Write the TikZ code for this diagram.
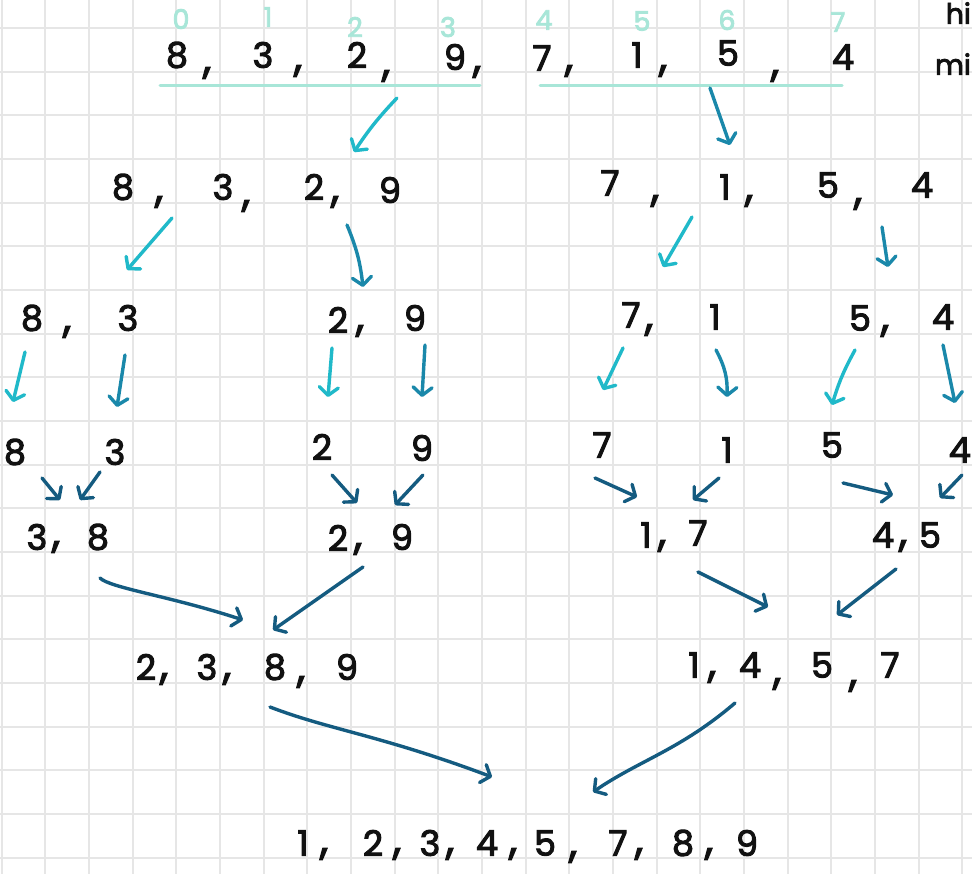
\documentclass[tikz,border=0pt]{standalone}
\usepackage{fontspec}
\setmainfont{Poppins}[FakeBold=3]
\usetikzlibrary{arrows.meta}
\definecolor{gridgray}{HTML}{E6E6E6}
\definecolor{idxteal}{HTML}{A8E6D8}
\definecolor{cyanarr}{HTML}{20B9C9}
\definecolor{tealarr}{HTML}{1A88AA}
\definecolor{darkarr}{HTML}{145B80}
\definecolor{ink}{HTML}{111111}
\tikzset{
  gridline/.style={draw=gridgray, line width=2pt},
  num/.style={inner sep=0pt, text=ink, font=\fontsize{35}{35}\selectfont},
  commamark/.style={inner sep=0pt, text=ink, font=\fontsize{42}{42}\selectfont},
  idx/.style={inner sep=0pt, text=idxteal, font=\fontsize{27}{27}\selectfont},
  note/.style={inner sep=0pt, text=ink, anchor=east, font=\fontsize{28}{28}\selectfont},
  splitline/.style={draw=idxteal, line width=3pt, line cap=round},
  arr/.style={line width=3.4pt, line cap=round, -{Straight Barb[length=8pt,width=19pt,round]}},
  ca/.style={arr, draw=cyanarr},
  ta/.style={arr, draw=tealarr},
  da/.style={arr, draw=darkarr}
}
\begin{document}
\begin{tikzpicture}[x=1pt,y=-1pt]
\useasboundingbox (0,0) rectangle (972,874);
\clip (0,0) rectangle (972,874);
\fill[white] (0,0) rectangle (972,874);
% grid
\foreach \i in {0,...,22} \draw[gridline] ({1.5+43.67*\i},0) -- ({1.5+43.67*\i},874);
\foreach \j in {0,...,19} \draw[gridline] (0,{28+43.67*\j}) -- (972,{28+43.67*\j});
% notes at right edge
\node[note] (hi) at (971,13) {hi};
\node[note] (mi) at (971,64) {mi};
% indices
\node[idx] (i0) at (181,19) {0};
\node[idx] (i1) at (268,17) {1};
\node[idx] (i2) at (355,27) {2};
\node[idx] (i3) at (448,27) {3};
\node[idx] (i4) at (544,20) {4};
\node[idx] (i5) at (642,21) {5};
\node[idx] (i6) at (727,20) {6};
\node[idx] (i7) at (838,22) {7};
% row 0
\node[num] (a0) at (177,55) {8};
\node[commamark] (ac0) at (207,73) {,};
\node[num] (a1) at (263,55) {3};
\node[commamark] (ac1) at (298,71) {,};
\node[num] (a2) at (357,55) {2};
\node[commamark] (ac2) at (386,76) {,};
\node[num] (a3) at (455,57) {9};
\node[commamark] (ac3) at (477,72) {,};
\node[num] (a4) at (542,58) {7};
\node[commamark] (ac4) at (569,71) {,};
\node[num] (a5) at (637,55) {1};
\node[commamark] (ac5) at (663,71) {,};
\node[num] (a6) at (728,53) {5};
\node[commamark] (ac6) at (775,76) {,};
\node[num] (a7) at (843,57) {4};
\draw[splitline] (160,86) coordinate (lL1) -- (480,86) coordinate (lL2);
\draw[splitline] (540,86) coordinate (lR1) -- (842,86) coordinate (lR2);
% row 1
\node[num] (b0) at (123,187) {8};
\node[commamark] (bc0) at (159,202) {,};
\node[num] (b1) at (223,187) {3};
\node[commamark] (bc1) at (246,206) {,};
\node[num] (b2) at (314,187) {2};
\node[commamark] (bc2) at (335,202) {,};
\node[num] (b3) at (390,190) {9};
\node[num] (b4) at (610,183) {7};
\node[commamark] (bc4) at (655,201) {,};
\node[num] (b5) at (725,187) {1};
\node[commamark] (bc5) at (749,201) {,};
\node[num] (b6) at (828,185) {5};
\node[commamark] (bc6) at (858,204) {,};
\node[num] (b7) at (922,185) {4};
% row 2
\node[num] (c0) at (32,318) {8};
\node[commamark] (cc0) at (67,332) {,};
\node[num] (c1) at (128,318) {3};
\node[num] (c2) at (338,320) {2};
\node[commamark] (cc2) at (360,331) {,};
\node[num] (c3) at (415,318) {9};
\node[num] (c4) at (631,315) {7};
\node[commamark] (cc4) at (649,330) {,};
\node[num] (c5) at (715,317) {1};
\node[num] (c6) at (860,318) {5};
\node[commamark] (cc6) at (885,331) {,};
\node[num] (c7) at (943,317) {4};
% row 3
\node[num] (d0) at (15,452) {8};
\node[num] (d1) at (115,452) {3};
\node[num] (d2) at (322,447) {2};
\node[num] (d3) at (422,448) {9};
\node[num] (d4) at (602,445) {7};
\node[num] (d5) at (727,450) {1};
\node[num] (d6) at (832,445) {5};
\node[num, anchor=east] (d7) at (971,450) {4};
% row 4
\node[num] (e0) at (37,537) {3};
\node[commamark] (ec0) at (56,547) {,};
\node[num] (e1) at (98,537) {8};
\node[num] (e2) at (338,538) {2};
\node[commamark] (ec2) at (358,549) {,};
\node[num] (e3) at (402,537) {9};
\node[num] (e4) at (646,535) {1};
\node[commamark] (ec4) at (662,546) {,};
\node[num] (e5) at (698,533) {7};
\node[num] (e6) at (883,535) {4};
\node[commamark] (ec6) at (903,546) {,};
\node[num] (e7) at (930,535) {5};
% row 5
\node[num] (f0) at (146,667) {2};
\node[commamark] (fc0) at (164,679) {,};
\node[num] (f1) at (207,667) {3};
\node[commamark] (fc1) at (227,679) {,};
\node[num] (f2) at (275,667) {8};
\node[commamark] (fc2) at (301,682) {,};
\node[num] (f3) at (347,667) {9};
\node[num] (f4) at (694,665) {1};
\node[commamark] (fc4) at (712,677) {,};
\node[num] (f5) at (750,665) {4};
\node[commamark] (fc5) at (777,684) {,};
\node[num] (f6) at (822,665) {5};
\node[commamark] (fc6) at (853,686) {,};
\node[num] (f7) at (890,665) {7};
% row 6
\node[num] (g0) at (303,843) {1};
\node[commamark] (gc0) at (324,854) {,};
\node[num] (g1) at (373,843) {2};
\node[commamark] (gc1) at (397,854) {,};
\node[num] (g2) at (430,843) {3};
\node[commamark] (gc2) at (450,854) {,};
\node[num] (g3) at (487,843) {4};
\node[commamark] (gc3) at (513,854) {,};
\node[num] (g4) at (545,843) {5};
\node[commamark] (gc4) at (573,857) {,};
\node[num] (g5) at (618,843) {7};
\node[commamark] (gc5) at (639,854) {,};
\node[num] (g6) at (683,843) {8};
\node[commamark] (gc6) at (709,854) {,};
\node[num] (g7) at (747,843) {9};
% arrow end points
\coordinate (s01) at (397,98);  \coordinate (t01) at (354,152);
\coordinate (s02) at (710,88);  \coordinate (t02) at (730,145);
\coordinate (s11) at (172,218); \coordinate (t11) at (127,270);
\coordinate (s12) at (347,225); \coordinate (t12) at (363,287);
\coordinate (s13) at (692,217); \coordinate (t13) at (663,267);
\coordinate (s14) at (882,227); \coordinate (t14) at (888,267);
\coordinate (s21) at (25,352);  \coordinate (t21) at (13,402);
\coordinate (s22) at (125,355); \coordinate (t22) at (117,407);
\coordinate (s23) at (332,348); \coordinate (t23) at (328,397);
\coordinate (s24) at (425,345); \coordinate (t24) at (422,397);
\coordinate (s25) at (623,348); \coordinate (t25) at (603,390);
\coordinate (s26) at (716,350); \coordinate (t26) at (727,397);
\coordinate (s27) at (855,350); \coordinate (t27) at (832,405);
\coordinate (s28) at (943,345); \coordinate (t28) at (955,403);
\coordinate (s31) at (42,478);  \coordinate (t31) at (60,500);
\coordinate (s32) at (100,472); \coordinate (t32) at (80,500);
\coordinate (s33) at (332,475); \coordinate (t33) at (357,503);
\coordinate (s34) at (423,475); \coordinate (t34) at (395,505);
\coordinate (s35) at (595,478); \coordinate (t35) at (637,497);
\coordinate (s36) at (719,478); \coordinate (t36) at (693,500);
\coordinate (s37) at (843,483); \coordinate (t37) at (893,495);
\coordinate (s38) at (962,475); \coordinate (t38) at (940,498);
\coordinate (s41) at (100,578); \coordinate (t41) at (243,620);
\coordinate (s42) at (363,567); \coordinate (t42) at (273,630);
\coordinate (s43) at (698,572); \coordinate (t43) at (768,607);
\coordinate (s44) at (896,569); \coordinate (t44) at (837,615);
\coordinate (s51) at (270,707); \coordinate (t51) at (492,777);
\coordinate (s52) at (735,703); \coordinate (t52) at (593,792);
% split arrows
\draw[ca] (s01) to[bend right=5] (t01);
\draw[ta] (s02) -- (t02);
\draw[ca] (s11) -- (t11);
\draw[ta] (s12) to[bend left=8] (t12);
\draw[ca] (s13) -- (t13);
\draw[ta] (s14) -- (t14);
\draw[ca] (s21) -- (t21);
\draw[ta] (s22) -- (t22);
\draw[ca] (s23) -- (t23);
\draw[ta] (s24) -- (t24);
\draw[ca] (s25) -- (t25);
\draw[ta] (s26) to[bend left=15] (t26);
\draw[ca] (s27) to[bend right=6] (t27);
\draw[ta] (s28) -- (t28);
% merge arrows
\draw[da] (s31) -- (t31);
\draw[da] (s32) -- (t32);
\draw[da] (s33) -- (t33);
\draw[da] (s34) -- (t34);
\draw[da] (s35) -- (t35);
\draw[da] (s36) -- (t36);
\draw[da] (s37) -- (t37);
\draw[da] (s38) -- (t38);
\draw[da] (s41) .. controls (110,588) and (170,596) .. (t41);
\draw[da] (s42) -- (t42);
\draw[da] (s43) -- (t43);
\draw[da] (s44) -- (t44);
\draw[da] (s51) .. controls (330,730) and (380,735) .. (t51);
\draw[da] (s52) .. controls (680,750) and (640,760) .. (t52);
\end{tikzpicture}
\end{document}
